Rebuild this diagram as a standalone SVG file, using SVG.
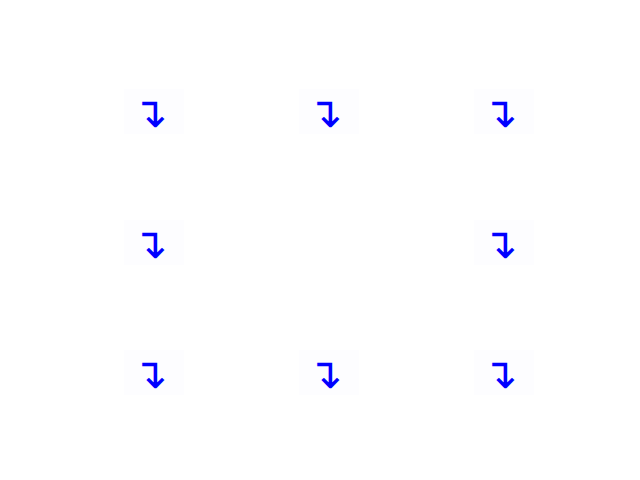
<svg xmlns="http://www.w3.org/2000/svg" width="640" height="480" viewBox="0 0 640 480">
<style>
.bg{fill:#fdfdff}
.t{font-family:"DejaVu Sans",sans-serif;font-size:42px;fill:#0000ff;text-anchor:middle}
</style>
<rect width="640" height="480" fill="#ffffff"/>
<g id="n1"><rect class="bg" x="124" y="89" width="60" height="45"/><text class="t" x="150" y="127">↴</text></g>
<g id="n2"><rect class="bg" x="299" y="89" width="60" height="45"/><text class="t" x="325" y="127">↴</text></g>
<g id="n3"><rect class="bg" x="474" y="89" width="60" height="45"/><text class="t" x="500" y="127">↴</text></g>
<g id="n4"><rect class="bg" x="124" y="220" width="60" height="45"/><text class="t" x="150" y="258">↴</text></g>
<g id="n5"><rect class="bg" x="474" y="220" width="60" height="45"/><text class="t" x="500" y="258">↴</text></g>
<g id="n6"><rect class="bg" x="124" y="350" width="60" height="45"/><text class="t" x="150" y="388">↴</text></g>
<g id="n7"><rect class="bg" x="299" y="350" width="60" height="45"/><text class="t" x="325" y="388">↴</text></g>
<g id="n8"><rect class="bg" x="474" y="350" width="60" height="45"/><text class="t" x="500" y="388">↴</text></g>
<g id="connectors"></g>
</svg>
